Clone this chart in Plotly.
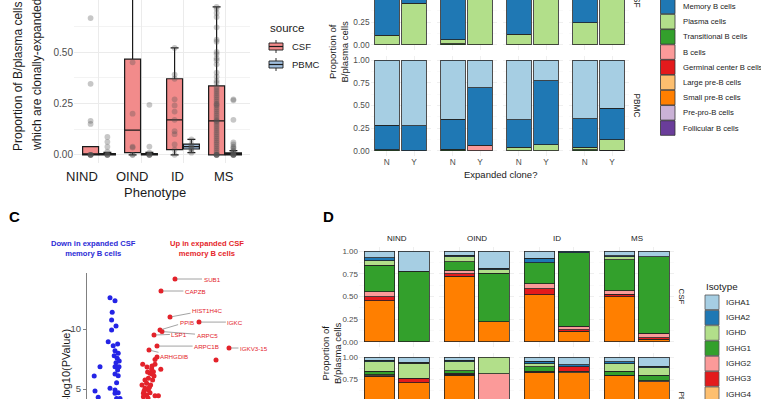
import plotly.graph_objects as go

W, H = 761, 399


def fx(p):
    return p / W


def fy(p):
    return 1 - p / H


SANS = "Liberation Sans, Arial, sans-serif"
GRID = "#EBEBEB"
TICK = "#4D4D4D"
TXT = "#1A1A1A"

# ---------------- Panel A data ----------------
phenotypes = ["NIND", "OIND", "ID", "MS"]
sources = ["CSF", "PBMC"]
source_fill = ["#F28B8B", "#A0BEDD"]

csf_q1 = [0.0, 0.01, 0.025, 0.0]
csf_median = [0.0, 0.12, 0.17, 0.165]
csf_q3 = [0.04, 0.465, 0.37, 0.335]
csf_lower = [0.0, 0.0, 0.0, 0.0]
csf_upper = [0.04, 0.95, 0.52, 0.72]

pbmc_q1 = [0.0, 0.0, 0.028, 0.0]
pbmc_median = [0.0, 0.002, 0.04, 0.004]
pbmc_q3 = [0.006, 0.006, 0.052, 0.009]
pbmc_lower = [0.0, 0.0, 0.01, 0.0]
pbmc_upper = [0.012, 0.012, 0.075, 0.02]

csf_points = [
    [0.665, 0.345, 0.165, 0.15, 0.0, 0.0, 0.0, 0.0, 0.0],
    [0.95, 0.45, 0.2, 0.04, 0.035, 0.0, 0.0],
    [0.52, 0.39, 0.37, 0.27, 0.24, 0.21, 0.17, 0.115, 0.10, 0.05, 0.025, 0.0],
    [0.72, 0.71, 0.69, 0.67, 0.62, 0.56, 0.55, 0.50, 0.49, 0.47, 0.46, 0.44, 0.40,
     0.38, 0.36, 0.35, 0.33, 0.32, 0.31, 0.30, 0.29, 0.28, 0.27, 0.26, 0.25, 0.245,
     0.24, 0.23, 0.22, 0.21, 0.20, 0.19, 0.18, 0.17, 0.165, 0.16, 0.15, 0.14, 0.13,
     0.12, 0.11, 0.10, 0.09, 0.08, 0.07, 0.06, 0.05, 0.04, 0.03, 0.02, 0.01, 0.0,
     0.0, 0.0, 0.0, 0.0],
]
pbmc_points = [
    [0.087, 0.063, 0.039, 0.015, 0.0, 0.0, 0.0, 0.0],
    [0.243, 0.04, 0.01, 0.0, 0.0, 0.0, 0.0],
    [0.075, 0.05, 0.045, 0.035, 0.03, 0.02, 0.01],
    [0.27, 0.265, 0.17, 0.06, 0.05, 0.04, 0.035, 0.03, 0.02, 0.015, 0.01, 0.005,
     0.0, 0.0, 0.0, 0.0, 0.0],
]

# ---------------- Panel B data ----------------
expanded = ["N", "Y"]
celltypes = ["Naive B cells", "Memory B cells", "Plasma cells", "Transitional B cells",
             "B cells", "Germinal center B cells", "Large pre-B cells",
             "Small pre-B cells", "Pre-pro-B cells", "Follicular B cells"]
celltype_colors = ["#A6CEE3", "#1F78B4", "#B2DF8A", "#33A02C", "#FB9A99",
                   "#E31A1C", "#FDBF6F", "#FF7F00", "#CAB2D6", "#6A3D9A"]

celltype_csf_N = [
    [0.293, 0.600, 0.107, 0, 0, 0, 0, 0, 0, 0],
    [0.245, 0.700, 0.043, 0.012, 0, 0, 0, 0, 0, 0],
    [0.283, 0.600, 0.117, 0, 0, 0, 0, 0, 0, 0],
    [0.255, 0.500, 0.245, 0, 0, 0, 0, 0, 0, 0],
]
celltype_csf_Y = [
    [0.192, 0.350, 0.458, 0, 0, 0, 0, 0, 0, 0],
    [0.100, 0.100, 0.800, 0, 0, 0, 0, 0, 0, 0],
    [0.050, 0.100, 0.850, 0, 0, 0, 0, 0, 0, 0],
    [0.080, 0.120, 0.800, 0, 0, 0, 0, 0, 0, 0],
]
celltype_pbmc_N = [
    [0.715, 0.270, 0, 0.015, 0, 0, 0, 0, 0, 0],
    [0.650, 0.330, 0, 0.020, 0, 0, 0, 0, 0, 0],
    [0.655, 0.305, 0.040, 0, 0, 0, 0, 0, 0, 0],
    [0.648, 0.310, 0.030, 0.012, 0, 0, 0, 0, 0, 0],
]
celltype_pbmc_Y = [
    [0.722, 0.278, 0, 0, 0, 0, 0, 0, 0, 0],
    [0.305, 0.630, 0, 0, 0.065, 0, 0, 0, 0, 0],
    [0.230, 0.700, 0.070, 0, 0, 0, 0, 0, 0, 0],
    [0.530, 0.345, 0.115, 0.010, 0, 0, 0, 0, 0, 0],
]

# ---------------- Panel C data ----------------
down_logfc = [-1.05, -0.80, -0.94, -0.97, -0.75, -0.97, -1.14, -0.89, -0.67, -0.80,
              -0.64, -0.84, -0.69, -0.59, -0.75, -1.55, -0.80, -0.60, -0.67, -0.80,
              -0.64, -1.84, -0.72, -1.05, -0.80, -1.80, -1.64, -0.80, -0.64, -0.72, -0.55]
down_logp = [12.61, 12.36, 11.39, 10.75, 10.25, 9.92, 8.94, 8.61, 8.75, 8.19,
             7.98, 7.78, 7.56, 7.33, 7.19, 6.86, 6.86, 6.86, 6.58, 6.25,
             6.11, 6.08, 5.53, 5.06, 4.92, 4.83, 4.31, 4.64, 4.69, 4.22, 4.22]
up_logfc = [0.585, 1.20, 1.03, 1.49, 1.12, 0.95, 1.15, 0.87, 1.08, 0.78, 0.98, 0.70,
            0.87, 0.62, 0.78, 1.20, 1.37, 0.62, 0.95, 0.92, 1.05, 1.20, 0.80, 0.70,
            0.55, 0.65, 0.85, 1.05, 0.83, 1.30, 4.25]
up_logp = [7.06, 7.06, 6.67, 6.64, 6.44, 6.31, 6.08, 5.89, 5.75, 5.48, 5.33, 5.06,
           4.92, 4.64, 4.50, 4.44, 4.44, 4.36, 4.69, 5.14, 6.25, 7.47, 6.83, 5.75,
           5.33, 4.83, 4.25, 6.92, 6.42, 7.67, 7.42]
gene_names = ["SUB1", "CAPZB", "HIST1H4C", "PPIB", "ARPC5", "IGKC", "LSP1",
              "ARPC1B", "IGKV3-15", "ARHGDIB"]
gene_logfc = [2.20, 1.50, 1.95, 1.45, 1.55, 3.40, 1.15, 1.30, 4.90, 0.90]
gene_logp = [14.17, 13.17, 11.00, 9.92, 9.79, 10.58, 9.50, 8.58, 8.42, 8.25]
gene_label_logfc = [4.05, 3.22, 3.80, 2.78, 3.80, 5.22, 2.42, 3.78, 6.15, 2.15]
gene_label_logp = [14.17, 13.17, 11.58, 10.58, 9.50, 10.58, 9.58, 8.58, 8.42, 7.75]

# ---------------- Panel D data ----------------
isotypes = ["IGHA1", "IGHA2", "IGHD", "IGHG1", "IGHG2", "IGHG3", "IGHG4", "IGHM"]
isotype_colors = ["#A6CEE3", "#1F78B4", "#B2DF8A", "#33A02C", "#FB9A99",
                  "#E31A1C", "#FDBF6F", "#FF7F00"]
isotype_csf_N = [
    [0.075, 0.030, 0.050, 0.290, 0.060, 0.040, 0, 0.455],
    [0.045, 0.020, 0.050, 0.100, 0.035, 0.025, 0, 0.725],
    [0.080, 0.050, 0, 0.230, 0.055, 0.063, 0, 0.522],
    [0.050, 0.015, 0.030, 0.340, 0.040, 0.025, 0, 0.500],
]
isotype_csf_Y = [
    [0.220, 0, 0, 0.780, 0, 0, 0, 0],
    [0.190, 0.015, 0.040, 0.535, 0, 0, 0, 0.220],
    [0, 0.020, 0, 0.805, 0.040, 0.015, 0, 0.120],
    [0.063, 0, 0, 0.842, 0.050, 0.015, 0, 0.030],
]
isotype_pbmc_N = [
    [0.035, 0.020, 0.100, 0.040, 0.010, 0.010, 0, 0.785],
    [0.035, 0.020, 0.095, 0.030, 0.010, 0.010, 0, 0.800],
    [0.045, 0.030, 0.035, 0.050, 0, 0.010, 0, 0.830],
    [0.055, 0.020, 0.080, 0.045, 0, 0.010, 0, 0.790],
]
isotype_pbmc_Y = [
    [0.060, 0.010, 0.165, 0, 0, 0.050, 0, 0.715],
    [0, 0, 0.185, 0, 0.800, 0, 0, 0.015],
    [0.085, 0.025, 0, 0, 0, 0.045, 0.020, 0.825],
    [0.100, 0.020, 0.080, 0.065, 0.010, 0, 0, 0.725],
]

# ======================================================================
fig = go.Figure()
axes = {}
annotations = []
shapes = []


def axname(kind, n):
    return kind + ("" if n == 1 else str(n))


def add_axes(n, xd, yd, xr, yr, xkw=None, ykw=None):
    ytop = max(0.0, min(1.0, fy(yd[0])))
    ybot = max(0.0, min(1.0, fy(yd[1])))
    xa = dict(domain=[fx(xd[0]), fx(xd[1])], range=xr, anchor=axname("y", n),
              zeroline=False, showline=False, ticks="", showgrid=False,
              fixedrange=True, showticklabels=False)
    ya = dict(domain=[ybot, ytop], range=yr, anchor=axname("x", n),
              zeroline=False, showline=False, ticks="", showgrid=False,
              fixedrange=True, showticklabels=False)
    xa.update(xkw or {})
    ya.update(ykw or {})
    axes[axname("xaxis", n)] = xa
    axes[axname("yaxis", n)] = ya


def text(x, y, s, size, color=TXT, family=SANS, angle=0, xanchor="center",
         yanchor="middle"):
    annotations.append(dict(x=fx(x), y=fy(y), xref="paper", yref="paper", text=s,
                            showarrow=False, textangle=angle, xanchor=xanchor,
                            yanchor=yanchor, font=dict(size=size, color=color,
                                                       family=family)))


def rect(x0, y0, x1, y1, fill, line="#333333", width=0.8):
    shapes.append(dict(type="rect", xref="paper", yref="paper", x0=fx(x0), x1=fx(x1),
                       y0=fy(y0), y1=fy(y1), fillcolor=fill,
                       line=dict(color=line, width=width), layer="above"))


def seg(x0, y0, x1, y1, color="#1A1A1A", width=0.9):
    shapes.append(dict(type="line", xref="paper", yref="paper", x0=fx(x0), x1=fx(x1),
                       y0=fy(y0), y1=fy(y1), line=dict(color=color, width=width),
                       layer="above"))


def nz(v):
    return [None if a == 0 else a for a in v]


# ---------------- Panel A ----------------
add_axes(1, (74, 250), (0, 163), [-0.595, 3.595], [-0.04, 0.753],
         xkw=dict(tickvals=[0, 1, 2, 3], showgrid=True, gridcolor=GRID, gridwidth=1),
         ykw=dict(tickvals=[0, 0.25, 0.5, 0.75], tickformat=".2f", showticklabels=True,
                  showgrid=True, gridcolor=GRID, gridwidth=1,
                  tickfont=dict(size=10, color=TICK, family=SANS),
                  minor=dict(tickvals=[0.125, 0.375, 0.625], showgrid=True,
                             gridcolor=GRID, gridwidth=0.6)))

box_sets = [
    (csf_q1, csf_median, csf_q3, csf_lower, csf_upper, csf_points, -0.2),
    (pbmc_q1, pbmc_median, pbmc_q3, pbmc_lower, pbmc_upper, pbmc_points, 0.2),
]
for s, (q1, med, q3, lo, hi, pts, off) in enumerate(box_sets):
    fig.add_trace(go.Box(x=[i + off for i in range(len(phenotypes))], q1=q1,
                         median=med, q3=q3, lowerfence=lo, upperfence=hi, width=0.38,
                         fillcolor=source_fill[s],
                         line=dict(color="#1A1A1A", width=1.2), boxpoints=False,
                         xaxis="x", yaxis="y", hoverinfo="skip", showlegend=False))
for s, (q1, med, q3, lo, hi, pts, off) in enumerate(box_sets):
    xs = [i + off for i, grp in enumerate(pts) for _ in grp]
    ys = [v for grp in pts for v in grp]
    fig.add_trace(go.Scatter(x=xs, y=ys, mode="markers", xaxis="x", yaxis="y",
                             marker=dict(size=5.8, color="rgba(80,80,80,0.32)"),
                             hoverinfo="skip", showlegend=False))

for name, xp in zip(phenotypes, [82, 132, 177, 224]):
    text(xp, 177, name, 13)
text(155, 193, "Phenotype", 13)
text(18.5, 153, "Proportion of B/plasma cells", 12, angle=-90, yanchor="bottom")
text(37, 153, "which are clonally-expanded", 12, angle=-90, yanchor="bottom")

# legend "source"
text(268, 27.5, "source", 11.5, xanchor="left")
for s, name in enumerate(sources):
    cy = 46.5 + 18 * s
    seg(276, cy - 6.5, 276, cy + 6.5)
    rect(269, cy - 3.5, 283, cy + 3.5, source_fill[s], line="#1A1A1A", width=0.9)
    seg(269, cy, 283, cy, width=1.2)
    text(290, cy, name, 9.5, xanchor="left")

# ---------------- Panel B ----------------
b_x0 = [370.5, 436.5, 502.5, 568.5]
b_w = 60
b_rows = [((0, 49.5), [-0.05, 0.495]), ((55.5, 155.5), [-0.05, 1.05])]
b_data = [(celltype_csf_N, celltype_csf_Y), (celltype_pbmc_N, celltype_pbmc_Y)]
b_tick = dict(size=8.3, color=TICK, family=SANS)
for r in range(2):
    for c in range(4):
        n = 2 + r * 4 + c
        add_axes(n, (b_x0[c], b_x0[c] + b_w), b_rows[r][0], [-0.6, 1.6], b_rows[r][1],
                 xkw=dict(type="category", categoryorder="array",
                          categoryarray=expanded, showgrid=True, gridcolor=GRID,
                          gridwidth=0.8, showticklabels=(r == 1), tickfont=b_tick),
                 ykw=dict(tickvals=[0, 0.25, 0.5, 0.75, 1.0], tickformat=".2f",
                          showgrid=True, gridcolor=GRID, gridwidth=0.8,
                          showticklabels=(c == 0), tickfont=b_tick,
                          minor=dict(tickvals=[0.125, 0.375, 0.625, 0.875],
                                     showgrid=True, gridcolor="#F3F3F3",
                                     gridwidth=0.5)))
        dN, dY = b_data[r]
        for k in reversed(range(len(celltypes))):
            fig.add_trace(go.Bar(x=expanded, y=nz([dN[c][k], dY[c][k]]),
                                 marker=dict(color=celltype_colors[k],
                                             line=dict(color="#222222", width=0.8)),
                                 xaxis=axname("x", n), yaxis=axname("y", n),
                                 hoverinfo="skip", showlegend=False))

text(337.5, 52, "Proportion of<br>B/plasma cells", 9.5, angle=-90)
text(500.5, 174, "Expanded clone?", 9.5)
text(637, -1, "CSF", 8.3, angle=90)
text(637, 105.5, "PBMC", 8.3, angle=90)
for k, name in enumerate(celltypes):
    cy = -8.7 + 15.19 * k
    rect(660.5, cy - 7.3, 675, cy + 7.3, celltype_colors[k], line="#333333", width=0.8)
    text(680.5, cy, name, 7.7, xanchor="left")

# ---------------- Panel C ----------------
add_axes(10, (87, 267), (273, 399), [-2.2, 6.8], [4.17, 14.67],
         xkw=dict(visible=False),
         ykw=dict(showline=True, linecolor="#808080", linewidth=1, ticks="outside",
                  ticklen=3, tickcolor="#808080", tickvals=[5, 10],
                  showticklabels=True,
                  tickfont=dict(size=9.5, color=TICK, family=SANS)))
fig.add_trace(go.Scatter(x=down_logfc, y=down_logp, mode="markers", xaxis="x10",
                         yaxis="y10", marker=dict(size=5, color="#2424E6"),
                         hoverinfo="skip", showlegend=False, cliponaxis=False))
fig.add_trace(go.Scatter(x=up_logfc + gene_logfc, y=up_logp + gene_logp,
                         mode="markers", xaxis="x10", yaxis="y10",
                         marker=dict(size=5, color="#E3222A"), hoverinfo="skip",
                         showlegend=False, cliponaxis=False))
for g, gx, gy, lx, ly in zip(gene_names, gene_logfc, gene_logp, gene_label_logfc,
                             gene_label_logp):
    annotations.append(dict(x=gx, y=gy, xref="x10", yref="y10", ax=lx, ay=ly,
                            axref="x10", ayref="y10", text=g, showarrow=True,
                            arrowhead=0, arrowwidth=0.8, arrowcolor="#8C8C8C",
                            standoff=2,
                            font=dict(size=6.2, color="#E3222A", family=SANS)))
text(14, 216.5, "<b>C</b>", 15, color="#000000")
text(93, 248, "<b>Down in expanded CSF<br>memory B cells</b>", 7.6, color="#2B2BD6")
text(207, 248, "<b>Up in expanded CSF<br>memory B cells</b>", 7.6, color="#E5262B")
text(65, 327, "-log10(PValue)", 11, angle=-90, yanchor="top")

# ---------------- Panel D ----------------
d_x0 = [359, 439, 519, 599]
d_w = 75.3
d_rows = [((246.5, 346.5), [-0.05, 1.05]), ((352.5, 399), [0.535, 1.05])]
d_data = [(isotype_csf_N, isotype_csf_Y), (isotype_pbmc_N, isotype_pbmc_Y)]
d_tick = dict(size=8, color=TICK, family=SANS)
for r in range(2):
    for c in range(4):
        n = 11 + r * 4 + c
        add_axes(n, (d_x0[c], d_x0[c] + d_w), d_rows[r][0], [-0.6, 1.6], d_rows[r][1],
                 xkw=dict(type="category", categoryorder="array",
                          categoryarray=expanded, showgrid=True, gridcolor=GRID,
                          gridwidth=0.8),
                 ykw=dict(tickvals=[0, 0.25, 0.5, 0.75, 1.0], tickformat=".2f",
                          showgrid=True, gridcolor=GRID, gridwidth=0.8,
                          showticklabels=(c == 0), tickfont=d_tick,
                          minor=dict(tickvals=[0.125, 0.375, 0.625, 0.875],
                                     showgrid=True, gridcolor="#F3F3F3",
                                     gridwidth=0.5)))
        dN, dY = d_data[r]
        for k in reversed(range(len(isotypes))):
            fig.add_trace(go.Bar(x=expanded, y=nz([dN[c][k], dY[c][k]]),
                                 marker=dict(color=isotype_colors[k],
                                             line=dict(color="#222222", width=0.8)),
                                 xaxis=axname("x", n), yaxis=axname("y", n),
                                 hoverinfo="skip", showlegend=False))
for c, name in enumerate(phenotypes):
    text(d_x0[c] + d_w / 2, 238, name, 8)
text(681, 296.5, "CSF", 8, angle=90)
text(681, 402.5, "PBMC", 8, angle=90)
text(331, 354, "Proportion of<br>B/plasma cells", 9.5, angle=-90)
text(328, 216.5, "<b>D</b>", 15, color="#000000")
text(704, 286, "Isotype", 9.8, xanchor="left")
for k, name in enumerate(isotypes):
    cy = 302.3 + 15.33 * k
    rect(705, cy - 7.3, 719, cy + 7.3, isotype_colors[k], line="#555555", width=0.8)
    text(724, cy, name, 8, xanchor="left")

fig.update_layout(width=W, height=H, margin=dict(l=0, r=0, t=0, b=0),
                  paper_bgcolor="white", plot_bgcolor="white", showlegend=False,
                  barmode="stack", bargap=0.1, annotations=annotations, shapes=shapes,
                  **axes)
fig.write_html("out.html", config={"displayModeBar": False, "staticPlot": True},
               post_script="document.body.style.margin='0';"
                           "document.body.style.overflow='hidden';")
